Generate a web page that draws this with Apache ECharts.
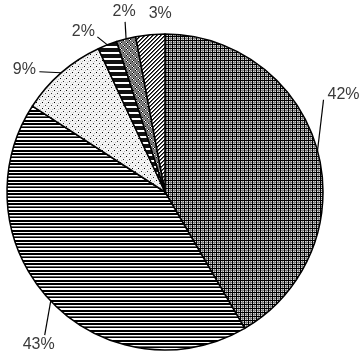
<!DOCTYPE html>
<html><head><meta charset="utf-8">
<script src="https://cdn.jsdelivr.net/npm/echarts@6/dist/echarts.min.js"></script>
<style>html,body{margin:0;padding:0;background:#fff}#c{width:364px;height:355px}</style>
</head><body><div id="c"></div>
<script>
const categories = ['A', 'B', 'C', 'D', 'E', 'F'];
const values = [42, 43, 9, 2, 2, 3];
const labels = ['42%', '43%', '9%', '2%', '2%', '3%'];

function tile(w, h, draw) {
  const c = document.createElement('canvas');
  c.width = w; c.height = h;
  const g = c.getContext('2d');
  draw(g, w, h);
  return { image: c, repeat: 'repeat' };
}
const px = (g, x, y, col) => { g.fillStyle = col; g.fillRect(x, y, 1, 1); };

const patterns = [
  // grid
  tile(4, 4, (g) => {
    g.fillStyle = '#d8d8d8'; g.fillRect(0, 0, 4, 4);
    g.fillStyle = '#808080'; g.fillRect(0, 2, 4, 1); g.fillRect(2, 0, 1, 4);
    g.fillStyle = '#000'; g.fillRect(0, 0, 4, 1); g.fillRect(0, 0, 1, 4);
  }),
  // horizontal lines
  tile(4, 10, (g) => {
    g.fillStyle = '#fff'; g.fillRect(0, 0, 4, 10);
    g.fillStyle = '#000';
    g.fillRect(0, 0, 4, 2); g.fillRect(0, 3, 4, 2); g.fillRect(0, 7, 4, 1);
    g.fillStyle = '#666'; g.fillRect(0, 6, 4, 1);
  }),
  // dots
  tile(6, 6, (g) => {
    g.fillStyle = '#f4f4f4'; g.fillRect(0, 0, 6, 6);
    px(g, 0, 0, '#000'); px(g, 3, 3, '#333');
    px(g, 1, 4, '#bbb'); px(g, 4, 1, '#bbb'); px(g, 2, 1, '#ddd'); px(g, 5, 4, '#ddd');
  }),
  // thick stripes
  tile(4, 6, (g) => {
    g.fillStyle = '#111'; g.fillRect(0, 0, 4, 6);
    g.fillStyle = '#fff'; g.fillRect(0, 4, 4, 2);
  }),
  // checker on grey
  tile(6, 6, (g) => {
    g.fillStyle = '#7a7a7a'; g.fillRect(0, 0, 6, 6);
    g.fillStyle = '#fff'; g.fillRect(0, 0, 1, 1); g.fillRect(1, 1, 1, 1);
    g.fillStyle = '#000'; g.fillRect(1, 0, 1, 1); g.fillRect(0, 1, 1, 1);
    g.fillStyle = '#fff'; g.fillRect(3, 3, 1, 1); g.fillRect(4, 4, 1, 1);
    g.fillStyle = '#000'; g.fillRect(4, 3, 1, 1); g.fillRect(3, 4, 1, 1);
  }),
  // diagonal "/"
  tile(4, 4, (g) => {
    g.fillStyle = '#fff'; g.fillRect(0, 0, 4, 4);
    for (let i = 0; i < 4; i++) { px(g, 3 - i, i, '#000'); px(g, (4 - i) % 4, i, '#555'); }
  })
];

// label placement relative to the slice edge point: [lineEndDx, lineEndDy, labelDx, labelDy]
const labelOffsets = [
  [6, -51, 26, -56],
  [-6, 34, -12, 44],
  [-22, -1, -37, -3],
  [-10, -8, -24, -13],
  [-1, -17, -2, -27],
  [10, -21, 10, -21]
];

const chart = echarts.init(document.getElementById('c'), null, { renderer: 'canvas' });
chart.setOption({
  animation: false,
  series: [{
    type: 'pie',
    center: [165, 192],
    radius: 158,
    startAngle: 90,
    clockwise: true,
    avoidLabelOverlap: false,
    data: categories.map((n, i) => ({
      name: n,
      value: values[i],
      itemStyle: { color: patterns[i] },
      labelLine: { show: i !== 5 }
    })),
    itemStyle: { borderColor: '#000', borderWidth: 1.5 },
    label: {
      show: true,
      position: 'outside',
      formatter: (p) => labels[p.dataIndex],
      fontFamily: 'Liberation Sans',
      fontSize: 16,
      color: '#3a3a3a'
    },
    labelLine: { show: true, length: 10, length2: 10, lineStyle: { color: '#000', width: 1.2 } },
    labelLayout: function (params) {
      const pts = params.labelLinePoints;
      if (!pts) return {};
      const e = pts[0];
      const o = labelOffsets[params.dataIndex];
      return {
        x: e[0] + o[2],
        y: e[1] + o[3],
        align: 'center',
        verticalAlign: 'middle',
        labelLinePoints: [[e[0], e[1]], [e[0] + o[0], e[1] + o[1]], [e[0] + o[0], e[1] + o[1]]]
      };
    }
  }]
});
</script></body></html>
